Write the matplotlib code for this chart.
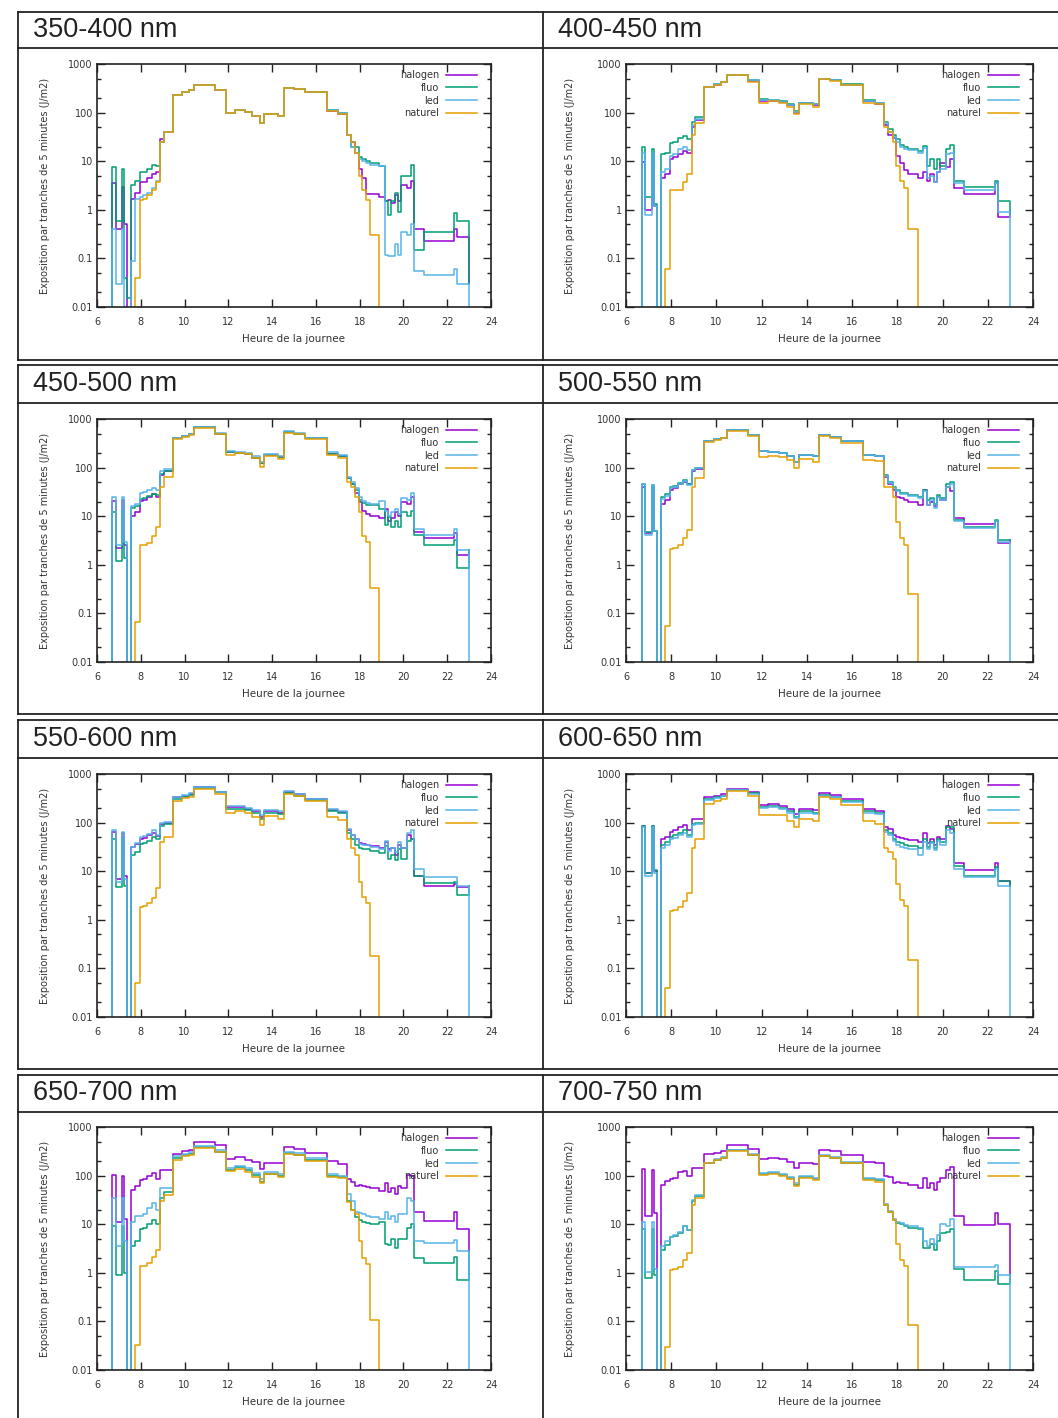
import matplotlib
matplotlib.use('Agg')
import matplotlib.pyplot as plt
from matplotlib.lines import Line2D
from matplotlib.ticker import LogLocator, FixedLocator, NullFormatter, FuncFormatter

# time grid (hour of day), values hold until the next hour (step post)
hours = [6.68, 6.70, 6.85, 7.15, 7.25, 7.35, 7.55, 7.72, 7.95, 8.10,
         8.30, 8.50, 8.70, 8.90, 9.05, 9.45, 9.90, 10.20, 10.45, 11.40,
         11.90, 12.30, 12.75, 13.10, 13.45, 13.65, 14.25, 14.55, 15.00, 15.50,
         16.50, 17.00, 17.40, 17.60, 17.80, 17.95, 18.10, 18.30, 18.45, 18.90,
         19.15, 19.30, 19.45, 19.60, 19.75, 19.90, 20.15, 20.35, 20.50, 20.95,
         22.30, 22.45, 23.00]

bands = ['350-400 nm', '400-450 nm', '450-500 nm', '500-550 nm',
         '550-600 nm', '600-650 nm', '650-700 nm', '700-750 nm']
series_names = ['halogen', 'fluo', 'led', 'naturel']
series_colors = ['#9400d3', '#009e73', '#56b4e9', '#e69f00']

# ---- 350-400 nm
halogen_350 = [0.001, 3.5, 0.4, 3, 0.5, 0.001, 1.7, 2.2, 3.8, 3.8,
               4.5, 5.5, 6, 28, 40, 230, 260, 290, 370, 290,
               100, 115, 105, 85, 60, 95, 85, 320, 300, 260,
               110, 95, 35, 25, 15, 7, 4.5, 2.1, 2.1, 1.8,
               1.5, 1.6, 1.4, 2.0, 1.5, 3.3, 2.8, 4, 0.4, 0.23,
               0.4, 0.27, 0.03]
fluo_350 = [0.001, 7.5, 0.6, 7, 0.04, 0.015, 3.2, 4, 6, 6,
            7, 8.5, 8, 25, 40, 235, 265, 290, 370, 290,
            100, 115, 105, 85, 60, 95, 85, 320, 300, 260,
            115, 100, 35, 20, 20, 12, 11, 10, 9, 8,
            1.5, 0.8, 1.5, 2.2, 0.9, 5, 5, 8.5, 0.15, 0.35,
            0.85, 0.6, 0.03]
led_350 = [0.001, 0.4, 0.03, 0.4, 0.001, 0.001, 0.09, 1.7, 1.8, 2.0,
           2.2, 2.8, 4, 25, 40, 235, 265, 290, 370, 290,
           100, 115, 105, 85, 60, 95, 85, 320, 300, 260,
           115, 100, 35, 20, 15, 11, 10, 9, 8.5, 8,
           0.12, 0.11, 0.11, 0.2, 0.12, 0.35, 0.3, 0.5, 0.055, 0.045,
           0.06, 0.03, 0.001]
naturel_350 = [0.001, 0.001, 0.001, 0.001, 0.001, 0.001, 0.001, 0.04, 1.6, 1.7,
               2.0, 2.5, 3.8, 25, 40, 230, 260, 290, 370, 290,
               100, 115, 105, 85, 60, 95, 85, 320, 300, 260,
               110, 95, 35, 25, 15, 5, 2.5, 1.6, 0.3, 0.001,
               0.001, 0.001, 0.001, 0.001, 0.001, 0.001, 0.001, 0.001, 0.001, 0.001,
               0.001, 0.001, 0.001]

# ---- 400-450 nm
halogen_400 = [0.001, 9.5, 1.0, 15, 1.2, 0.001, 4.5, 5.5, 11, 12,
               14, 16, 15, 50, 70, 340, 370, 420, 580, 450,
               170, 175, 165, 140, 100, 155, 140, 480, 460, 370,
               170, 150, 55, 35, 30, 13, 9, 6.5, 5.5, 4.5,
               6, 4, 5.5, 3.8, 6, 9, 7.5, 11, 2.8, 2.1,
               3.5, 0.7, 0.9]
fluo_400 = [0.001, 20, 1.8, 18, 1.3, 0.001, 14, 15, 24, 25,
            30, 33, 28, 65, 80, 340, 380, 430, 590, 460,
            190, 180, 170, 150, 110, 160, 150, 500, 470, 380,
            180, 160, 65, 45, 35, 28, 22, 20, 18, 16,
            21, 8, 11, 7, 11, 8, 18, 22, 4, 3,
            4, 1.5, 0.9]
led_400 = [0.001, 15, 0.8, 15, 1.2, 0.001, 6, 7, 13, 14,
           18, 20, 17, 55, 75, 340, 380, 430, 590, 460,
           185, 178, 168, 145, 105, 158, 148, 495, 465, 375,
           175, 155, 60, 40, 32, 25, 20, 18, 17, 15,
           19, 4.5, 5, 3.8, 6, 7, 14, 15, 3.5, 2.6,
           3.5, 0.9, 0.001]
naturel_400 = [0.001, 0.001, 0.001, 0.001, 0.001, 0.001, 0.001, 0.06, 2.5, 2.5,
               2.6, 3.8, 5.5, 35, 60, 330, 370, 420, 580, 430,
               160, 170, 160, 130, 95, 150, 130, 480, 450, 370,
               160, 150, 50, 40, 25, 8, 4, 2.8, 0.4, 0.001,
               0.001, 0.001, 0.001, 0.001, 0.001, 0.001, 0.001, 0.001, 0.001, 0.001,
               0.001, 0.001, 0.001]

# ---- 450-500 nm
halogen_450 = [0.001, 21, 2.2, 22, 2.5, 0.001, 10, 12, 21, 22,
               25, 28, 25, 70, 85, 400, 440, 480, 680, 500,
               210, 200, 195, 160, 125, 180, 165, 540, 500, 400,
               195, 170, 60, 45, 30, 20, 13, 11, 10, 9,
               14, 8, 9, 12, 10, 20, 18, 25, 4.8, 3.6,
               4.5, 1.6, 2.0]
fluo_450 = [0.001, 12, 1.2, 13, 1.4, 0.001, 15, 16, 23, 24,
            26, 28, 27, 75, 85, 400, 440, 480, 680, 500,
            210, 200, 195, 160, 125, 180, 165, 540, 500, 400,
            195, 170, 60, 45, 35, 22, 19, 17, 17, 14,
            6.5, 9.5, 6, 8, 6, 12, 10, 13, 4.2, 2.6,
            3.2, 0.85, 2.0]
led_450 = [0.001, 25, 2.5, 25, 3, 0.001, 16, 18, 30, 32,
           35, 38, 35, 85, 95, 410, 450, 500, 700, 510,
           220, 210, 200, 170, 130, 190, 175, 560, 510, 410,
           210, 180, 65, 50, 38, 25, 21, 19, 18, 21,
           13, 10, 12, 14, 11, 24, 22, 30, 5.5, 4.2,
           5.5, 2.0, 0.001]
naturel_450 = [0.001, 0.001, 0.001, 0.001, 0.001, 0.001, 0.001, 0.065, 2.6, 2.6,
               2.8, 4, 6, 40, 65, 380, 420, 470, 650, 490,
               180, 200, 190, 160, 105, 170, 150, 520, 480, 380,
               180, 160, 50, 40, 25, 12, 4, 3, 0.33, 0.001,
               0.001, 0.001, 0.001, 0.001, 0.001, 0.001, 0.001, 0.001, 0.001, 0.001,
               0.001, 0.001, 0.001]

# ---- 500-550 nm
halogen_500 = [0.001, 40, 4.5, 40, 5, 0.001, 18, 22, 35, 38,
               45, 50, 45, 85, 95, 350, 380, 400, 580, 460,
               220, 210, 200, 170, 130, 180, 170, 460, 430, 350,
               180, 175, 65, 45, 35, 25, 24, 22, 20, 17,
               35, 17, 20, 16, 25, 22, 40, 33, 9, 7,
               8, 2.8, 3.2]
fluo_500 = [0.001, 45, 4.8, 43, 5, 0.001, 25, 28, 40, 42,
            48, 55, 45, 90, 100, 350, 380, 400, 580, 460,
            220, 210, 200, 170, 130, 180, 170, 460, 430, 350,
            180, 175, 70, 50, 40, 35, 30, 30, 27, 25,
            35, 22, 24, 18, 27, 24, 45, 50, 8.5, 6,
            8.5, 3.2, 3.2]
led_500 = [0.001, 45, 4.2, 43, 5, 0.001, 23, 26, 38, 40,
           45, 52, 43, 90, 100, 350, 380, 400, 580, 460,
           220, 210, 200, 170, 130, 180, 170, 460, 430, 350,
           180, 175, 68, 48, 38, 33, 29, 28, 26, 24,
           33, 17, 22, 15, 25, 22, 40, 45, 8, 5.8,
           8, 3.0, 0.001]
naturel_500 = [0.001, 0.001, 0.001, 0.001, 0.001, 0.001, 0.001, 0.055, 2.1, 2.2,
               2.6, 3.5, 5.2, 40, 60, 330, 370, 400, 560, 440,
               165, 175, 165, 140, 100, 150, 130, 440, 410, 320,
               140, 135, 40, 40, 25, 7.5, 3.5, 2.6, 0.25, 0.001,
               0.001, 0.001, 0.001, 0.001, 0.001, 0.001, 0.001, 0.001, 0.001, 0.001,
               0.001, 0.001, 0.001]

# ---- 550-600 nm
halogen_550 = [0.001, 65, 7, 60, 8, 0.001, 32, 36, 45, 48,
               55, 62, 52, 95, 100, 330, 360, 380, 530, 420,
               210, 210, 195, 175, 130, 170, 160, 420, 380, 300,
               180, 165, 70, 55, 45, 38, 37, 35, 33, 30,
               40, 28, 30, 22, 35, 30, 55, 45, 8, 5,
               5.5, 4.8, 5]
fluo_550 = [0.001, 45, 4.8, 45, 5, 0.001, 22, 25, 37, 38,
            42, 50, 45, 85, 95, 310, 340, 370, 520, 420,
            190, 190, 180, 160, 120, 160, 150, 400, 360, 290,
            170, 160, 60, 45, 35, 30, 28, 28, 26, 24,
            33, 18, 22, 17, 28, 18, 42, 45, 8, 5.8,
            6, 3.2, 5]
led_550 = [0.001, 70, 6, 65, 7, 0.001, 32, 38, 50, 52,
           58, 70, 55, 100, 105, 340, 370, 400, 550, 430,
           220, 220, 200, 180, 140, 180, 170, 440, 390, 310,
           190, 170, 75, 55, 45, 36, 35, 34, 32, 28,
           42, 26, 30, 25, 40, 30, 60, 70, 11, 7.5,
           7.5, 5, 0.001]
naturel_550 = [0.001, 0.001, 0.001, 0.001, 0.001, 0.001, 0.001, 0.05, 1.8, 1.9,
               2.2, 2.8, 4.5, 40, 50, 280, 320, 340, 500, 390,
               155, 170, 160, 130, 90, 135, 120, 380, 350, 280,
               130, 115, 45, 30, 22, 6, 3, 2.2, 0.18, 0.001,
               0.001, 0.001, 0.001, 0.001, 0.001, 0.001, 0.001, 0.001, 0.001, 0.001,
               0.001, 0.001, 0.001]

# ---- 600-650 nm
halogen_600 = [0.001, 85, 9, 85, 10, 0.001, 45, 50, 65, 70,
               80, 90, 70, 120, 120, 330, 360, 380, 500, 430,
               230, 240, 220, 190, 150, 190, 180, 400, 370, 300,
               190, 170, 80, 75, 55, 50, 48, 45, 43, 40,
               60, 38, 45, 35, 50, 45, 85, 75, 15, 10.5,
               15, 6.2, 5]
fluo_600 = [0.001, 85, 9, 85, 10.5, 0.001, 35, 40, 50, 55,
            60, 70, 55, 95, 100, 300, 330, 360, 470, 400,
            210, 220, 200, 170, 130, 170, 160, 370, 340, 280,
            170, 160, 70, 60, 45, 40, 38, 35, 33, 30,
            45, 32, 40, 30, 45, 40, 80, 80, 12.5, 8,
            12, 6.2, 5]
led_600 = [0.001, 80, 8, 80, 9, 0.001, 30, 35, 45, 48,
           55, 62, 50, 90, 95, 290, 320, 350, 460, 390,
           200, 210, 190, 160, 125, 160, 150, 360, 330, 270,
           160, 150, 65, 55, 42, 35, 32, 30, 28, 22,
           40, 28, 38, 27, 42, 35, 70, 60, 11, 7.5,
           11, 5, 0.001]
naturel_600 = [0.001, 0.001, 0.001, 0.001, 0.001, 0.001, 0.001, 0.04, 1.5, 1.6,
               1.8, 2.4, 3.5, 30, 45, 240, 280, 300, 440, 350,
               140, 145, 140, 110, 80, 120, 110, 330, 300, 230,
               110, 95, 30, 25, 18, 5.5, 2.5, 1.9, 0.15, 0.001,
               0.001, 0.001, 0.001, 0.001, 0.001, 0.001, 0.001, 0.001, 0.001, 0.001,
               0.001, 0.001, 0.001]

# ---- 650-700 nm
halogen_650 = [0.001, 105, 11, 100, 13, 0.001, 50, 60, 80, 85,
               100, 115, 85, 130, 130, 280, 320, 340, 480, 430,
               220, 240, 210, 190, 135, 180, 180, 380, 350, 290,
               200, 170, 85, 75, 60, 65, 62, 58, 55, 48,
               70, 45, 55, 42, 60, 55, 105, 100, 18, 11.5,
               18, 8, 2.8]
fluo_650 = [0.001, 9, 0.9, 9, 1.0, 0.001, 3.5, 4.5, 8, 8.5,
            10, 12, 10, 35, 45, 230, 260, 280, 380, 310,
            130, 150, 130, 105, 75, 110, 100, 290, 270, 210,
            100, 95, 30, 20, 14, 12, 11, 10.5, 10, 11,
            4, 3.8, 5, 3.3, 5, 5, 8.5, 10, 2.0, 1.6,
            2.1, 0.7, 2.8]
led_650 = [0.001, 35, 3.5, 35, 4.5, 0.001, 11, 15, 15, 16,
           22, 27, 20, 55, 55, 250, 280, 300, 400, 340,
           140, 160, 140, 115, 85, 120, 110, 310, 290, 230,
           110, 100, 42, 30, 18, 17, 16, 15, 14, 13,
           18, 13, 15, 11, 16, 16, 35, 30, 4.5, 4.2,
           4.8, 2.8, 0.001]
naturel_650 = [0.001, 0.001, 0.001, 0.001, 0.001, 0.001, 0.001, 0.033, 1.35, 1.4,
               1.6, 2.1, 3.0, 30, 40, 210, 250, 270, 370, 300,
               125, 135, 120, 95, 70, 110, 95, 280, 260, 200,
               95, 90, 28, 20, 16, 4.5, 2.0, 1.5, 0.105, 0.001,
               0.001, 0.001, 0.001, 0.001, 0.001, 0.001, 0.001, 0.001, 0.001, 0.001,
               0.001, 0.001, 0.001]

# ---- 700-750 nm
halogen_700 = [0.001, 135, 15, 130, 17, 0.001, 65, 78, 85, 90,
               120, 125, 100, 140, 140, 280, 290, 320, 430, 350,
               220, 230, 220, 190, 145, 180, 175, 340, 320, 260,
               190, 180, 100, 95, 70, 75, 72, 70, 65, 55,
               90, 55, 70, 50, 75, 90, 130, 150, 14.5, 9.5,
               17, 10, 0.9]
fluo_700 = [0.001, 8, 0.8, 8, 0.9, 0.001, 3, 3.7, 5.5, 5.7,
            6.5, 9, 7.5, 30, 38, 180, 210, 230, 330, 270,
            110, 115, 105, 90, 65, 95, 85, 250, 235, 185,
            85, 80, 25, 18, 12, 10.5, 10, 9, 8.5, 8,
            3.3, 3.2, 4, 3, 4.5, 6.5, 7, 8, 1.2, 0.72,
            1.1, 0.58, 0.9]
led_700 = [0.001, 11, 1.05, 11, 1.2, 0.001, 3.5, 4.5, 5.5, 6,
           7, 9, 7.5, 32, 40, 185, 215, 240, 340, 280,
           115, 120, 110, 95, 70, 100, 90, 260, 240, 190,
           90, 85, 26, 19, 13, 11, 10.5, 9.5, 9, 8.5,
           4.5, 3.5, 5, 4, 6, 10, 9, 13, 1.3, 1.3,
           1.45, 0.88, 0.001]
naturel_700 = [0.001, 0.001, 0.001, 0.001, 0.001, 0.001, 0.001, 0.03, 1.15, 1.2,
               1.3, 1.8, 2.6, 25, 35, 180, 210, 230, 320, 260,
               105, 110, 100, 85, 60, 90, 80, 250, 230, 180,
               80, 75, 25, 18, 12, 4, 1.8, 1.4, 0.085, 0.001,
               0.001, 0.001, 0.001, 0.001, 0.001, 0.001, 0.001, 0.001, 0.001, 0.001,
               0.001, 0.001, 0.001]

panel_data = [
    [halogen_350, fluo_350, led_350, naturel_350],
    [halogen_400, fluo_400, led_400, naturel_400],
    [halogen_450, fluo_450, led_450, naturel_450],
    [halogen_500, fluo_500, led_500, naturel_500],
    [halogen_550, fluo_550, led_550, naturel_550],
    [halogen_600, fluo_600, led_600, naturel_600],
    [halogen_650, fluo_650, led_650, naturel_650],
    [halogen_700, fluo_700, led_700, naturel_700],
]

W, H = 1058, 1418
fig = plt.figure(figsize=(W / 100, H / 100), dpi=100)
fig.patch.set_facecolor('white')

TXT = '#333333'
LINE = '#222222'

# table layout (pixels)
row_top = [12, 365, 720, 1075]
row_head = [48, 403, 758, 1112]
row_bot = [360, 714, 1069, 1430]
col_left = [18, 543]
ax_top = [64, 419, 774, 1127]
ax_h = 243
ax_x = [(97, 491), (626, 1033)]
ylabel_right = [50, 575]


def hline(y, x0, x1):
    fig.add_artist(Line2D([x0 / W, x1 / W], [1 - y / H, 1 - y / H],
                          transform=fig.transFigure, color=LINE, lw=1.3))


def vline(x, y0, y1):
    fig.add_artist(Line2D([x / W, x / W], [1 - y0 / H, 1 - y1 / H],
                          transform=fig.transFigure, color=LINE, lw=1.3))


for r in range(4):
    hline(row_top[r], 18, W + 5)
    hline(row_head[r], 18, W + 5)
    hline(row_bot[r], 18, W + 5)
    for c in col_left:
        vline(c, row_top[r], row_bot[r])

for k, band in enumerate(bands):
    r, c = divmod(k, 2)
    # header text
    fig.text((col_left[c] + 15) / W, 1 - (row_top[r] + row_head[r]) / 2 / H, band,
             fontsize=19.5, family='Liberation Sans', color='#222222',
             ha='left', va='center')

    x0, x1 = ax_x[c]
    ax = fig.add_axes([x0 / W, 1 - (ax_top[r] + ax_h) / H, (x1 - x0) / W, ax_h / H])
    for vals, name, col in zip(panel_data[k], series_names, series_colors):
        assert len(vals) == len(hours)
        ax.step(hours, vals, where='post', color=col, lw=1.1, label=name)

    ax.set_yscale('log')
    ax.set_ylim(0.01, 1000)
    ax.set_xlim(6, 24)
    ax.xaxis.set_major_locator(FixedLocator(range(6, 25, 2)))
    ax.yaxis.set_major_locator(LogLocator(base=10, numticks=10))
    ax.yaxis.set_minor_locator(LogLocator(base=10, subs=(2.0, 5.0), numticks=20))
    ax.yaxis.set_major_formatter(FuncFormatter(lambda v, p: f'{v:g}'))
    ax.yaxis.set_minor_formatter(NullFormatter())
    ax.tick_params(which='both', direction='in', top=True, right=True,
                   labelsize=7, labelcolor=TXT, color=LINE, width=1.0)
    ax.tick_params(axis='x', which='major', length=6, pad=7)
    ax.tick_params(axis='y', which='major', length=6, pad=3)
    ax.tick_params(axis='y', which='minor', length=3)
    for sp in ax.spines.values():
        sp.set_linewidth(1.2)
        sp.set_color(LINE)

    ax.set_xlabel('Heure de la journee', fontsize=7.5, color=TXT)
    ax.xaxis.set_label_coords(0.5, -27 / ax_h)
    ax.set_ylabel('Exposition par tranches de 5 minutes (J/m2)', fontsize=7, color=TXT)
    ax.yaxis.set_label_coords(-(x0 - ylabel_right[c]) / (x1 - x0), 0.5)

    leg = ax.legend(loc='upper right', bbox_to_anchor=(0.965, 0.975),
                    frameon=False, markerfirst=False, fontsize=7,
                    handlelength=3.2, handletextpad=0.7, labelspacing=0.28,
                    borderpad=0, borderaxespad=0)
    for t in leg.get_texts():
        t.set_color(TXT)

fig.savefig('out.png', dpi=100, facecolor='white')
